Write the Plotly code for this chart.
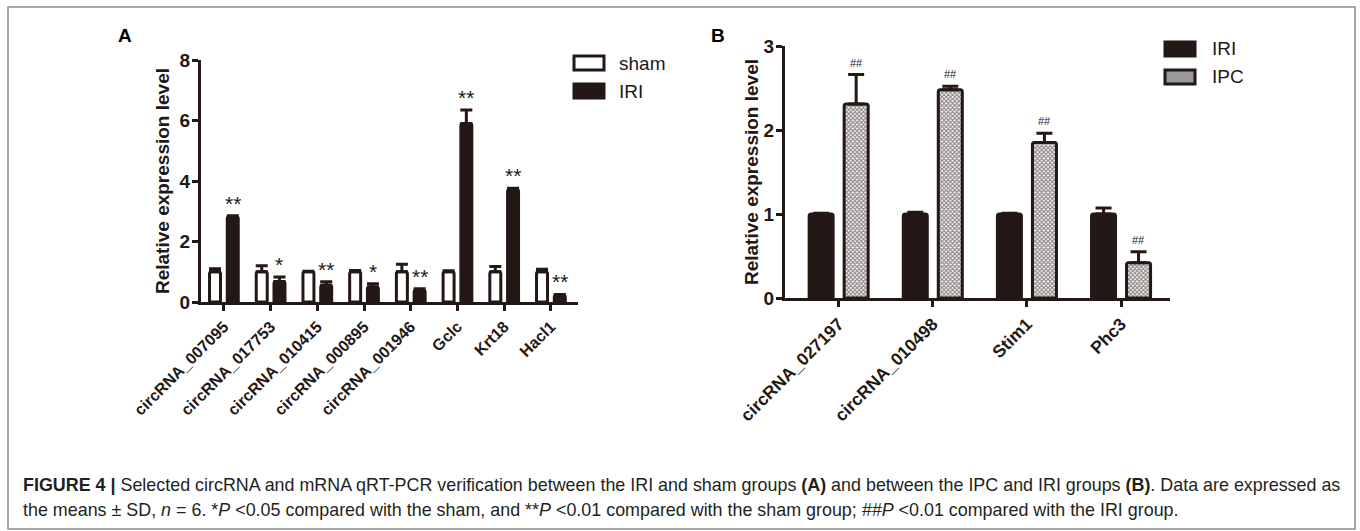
import plotly.graph_objects as go

# ---------------- data ----------------
cats_a = ["circRNA_007095", "circRNA_017753", "circRNA_010415", "circRNA_000895",
          "circRNA_001946", "Gclc", "Krt18", "Hacl1"]
sham_vals = [1.0, 1.0, 1.0, 1.0, 1.0, 1.0, 1.0, 1.0]
sham_err = [0.10, 0.20, 0.02, 0.04, 0.25, 0.03, 0.17, 0.08]
iri_a_vals = [2.82, 0.68, 0.55, 0.50, 0.40, 5.90, 3.72, 0.22]
iri_a_err = [0.03, 0.15, 0.12, 0.10, 0.04, 0.45, 0.04, 0.03]
sig_a = ["**", "*", "**", "*", "**", "**", "**", "**"]

cats_b = ["circRNA_027197", "circRNA_010498", "Stim1", "Phc3"]
iri_b_vals = [1.0, 1.0, 1.0, 1.0]
iri_b_err = [0.01, 0.02, 0.01, 0.07]
ipc_vals = [2.31, 2.48, 1.85, 0.42]
ipc_err = [0.35, 0.04, 0.11, 0.13]
sig_b = ["##", "##", "##", "##"]

legend_a = ["sham", "IRI"]
legend_b = ["IRI", "IPC"]

DARK = "#231815"
FONT = "Liberation Sans, Arial, sans-serif"
W, H = 1360, 531


def px(x):
    return x / W


def py(y):
    return 1 - y / H


fig = go.Figure()

# ---- Panel A ----
wA = 0.235
fig.add_trace(go.Bar(
    x=cats_a, y=sham_vals, name=legend_a[0], width=wA, offset=-0.19 - wA / 2,
    marker=dict(color="white", line=dict(color=DARK, width=3)),
    error_y=dict(type="data", array=sham_err, arrayminus=[0] * len(sham_err), symmetric=False,
                 color=DARK, thickness=3, width=6),
    xaxis="x", yaxis="y"))
fig.add_trace(go.Bar(
    x=cats_a, y=iri_a_vals, name=legend_a[1], width=wA, offset=0.19 - wA / 2,
    marker=dict(color=DARK, line=dict(color=DARK, width=3)),
    error_y=dict(type="data", array=iri_a_err, arrayminus=[0] * len(iri_a_err), symmetric=False,
                 color=DARK, thickness=3, width=6),
    xaxis="x", yaxis="y"))

# ---- Panel B ----
wB = 0.255
fig.add_trace(go.Bar(
    x=cats_b, y=iri_b_vals, name=legend_b[0], width=wB, offset=-0.186 - wB / 2,
    marker=dict(color=DARK, line=dict(color=DARK, width=3)),
    error_y=dict(type="data", array=iri_b_err, arrayminus=[0] * len(iri_b_err), symmetric=False,
                 color=DARK, thickness=3, width=8),
    xaxis="x2", yaxis="y2"))
fig.add_trace(go.Bar(
    x=cats_b, y=ipc_vals, name=legend_b[1], width=wB, offset=0.186 - wB / 2,
    marker=dict(color="white", line=dict(color=DARK, width=3),
                pattern=dict(shape="x", size=3, solidity=0.65, fgcolor=DARK, bgcolor="white")),
    error_y=dict(type="data", array=ipc_err, arrayminus=[0] * len(ipc_err), symmetric=False,
                 color=DARK, thickness=3, width=8),
    xaxis="x2", yaxis="y2"))

annotations = []
for i, (v, e, s) in enumerate(zip(iri_a_vals, iri_a_err, sig_a)):
    annotations.append(dict(x=i + 0.19, y=v + e, xref="x", yref="y", text=s, showarrow=False,
                            yanchor="bottom", yshift=-1, font=dict(family=FONT, size=21, color=DARK)))
for i, (v, e, s) in enumerate(zip(ipc_vals, ipc_err, sig_b)):
    annotations.append(dict(x=i + 0.186, y=v + e, xref="x2", yref="y2", text=s, showarrow=False,
                            yanchor="bottom", yshift=4, font=dict(family=FONT, size=11, color=DARK)))

# custom legends (larger swatches, like the original)
LEG_FONT = dict(family=FONT, size=19, color=DARK)
shapes = []
leg_specs = [
    (574, 604, 617, [63, 91], legend_a, ["white", DARK]),
    (1165, 1195, 1210, [49, 77], legend_b, [DARK, "#9a9a9a"]),
]
for x0, x1, xt, ys, names, fills in leg_specs:
    for yc, name, fill in zip(ys, names, fills):
        shapes.append(dict(type="rect", xref="paper", yref="paper", x0=px(x0), x1=px(x1),
                           y0=py(yc + 7), y1=py(yc - 7), line=dict(color=DARK, width=3),
                           fillcolor=fill, layer="above"))
        annotations.append(dict(x=px(xt), y=py(yc), xref="paper", yref="paper", text=name,
                                showarrow=False, xanchor="left", yanchor="middle", font=LEG_FONT))

CAP_FONT = dict(family=FONT, size=17.9, color="#231f20")
annotations += [
    dict(x=px(125), y=py(35), xref="paper", yref="paper", text="<b>A</b>", showarrow=False,
         xanchor="center", yanchor="middle", font=dict(family=FONT, size=19, color="black")),
    dict(x=px(718), y=py(35), xref="paper", yref="paper", text="<b>B</b>", showarrow=False,
         xanchor="center", yanchor="middle", font=dict(family=FONT, size=19, color="black")),
    dict(x=px(21), y=py(485), xref="paper", yref="paper", showarrow=False,
         xanchor="left", yanchor="middle",
         text="<b>FIGURE 4 |</b> Selected circRNA and mRNA qRT-PCR verification between the IRI and sham groups "
              "<b>(A)</b> and between the IPC and IRI groups <b>(B)</b>. Data are expressed as",
         font=CAP_FONT),
    dict(x=px(21), y=py(510), xref="paper", yref="paper", showarrow=False,
         xanchor="left", yanchor="middle",
         text="the means \u00b1 SD, <i>n</i> = 6. *<i>P</i> &lt;0.05 compared with the sham, and **<i>P</i> "
              "&lt;0.01 compared with the sham group; <i>##</i><i>P</i> &lt;0.01 compared with the IRI group.",
         font=CAP_FONT),
]

shapes.append(dict(type="rect", xref="paper", yref="paper", x0=px(8), x1=px(1355),
                   y0=py(529), y1=py(7), line=dict(color="#8a8a8a", width=1.5)))

axis_common = dict(showline=True, linecolor=DARK, linewidth=3, ticks="outside", tickcolor=DARK,
                   tickwidth=3, ticklen=6, showgrid=False, zeroline=False, mirror=False,
                   automargin=False)
TICK_Y = dict(family=FONT, size=19, color=DARK, weight="bold")
TITLE_FONT = dict(family=FONT, size=19, color=DARK)

fig.update_layout(
    width=W, height=H, margin=dict(l=0, r=0, t=0, b=0, pad=0, autoexpand=False),
    paper_bgcolor="white", plot_bgcolor="white", barmode="overlay", barcornerradius=2,
    font=dict(family=FONT, color=DARK),
    xaxis=dict(domain=[px(201), px(578)], anchor="y", type="category",
               range=[-0.49, 7.58], tickangle=-45,
               tickfont=dict(family=FONT, size=16, color=DARK, weight="bold"), **axis_common),
    yaxis=dict(domain=[py(302), py(60)], anchor="x", range=[0, 8],
               tickvals=[0, 2, 4, 6, 8], tickfont=TICK_Y, ticklabelstandoff=-2,
               title=dict(text="<b>Relative expression level</b>", standoff=5, font=TITLE_FONT),
               **axis_common),
    xaxis2=dict(domain=[px(785), px(1170)], anchor="y2", type="category",
                range=[-0.57, 3.52], tickangle=-45,
                tickfont=dict(family=FONT, size=17.5, color=DARK, weight="bold"), **axis_common),
    yaxis2=dict(domain=[py(298), py(46)], anchor="x2", range=[0, 3],
                tickvals=[0, 1, 2, 3], tickfont=TICK_Y, ticklabelstandoff=-2,
                title=dict(text="<b>Relative expression level</b>", standoff=0, font=TITLE_FONT),
                **axis_common),
    annotations=annotations,
    shapes=shapes,
    showlegend=False,
)

fig.write_html("out.html", config={"displayModeBar": False},
               post_script="document.body.style.margin='0';document.body.style.overflow='hidden';")
